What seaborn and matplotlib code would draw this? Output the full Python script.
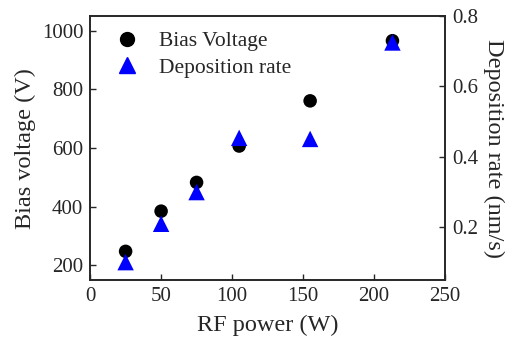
import numpy as np
import pandas as pd
import matplotlib
matplotlib.use('Agg')
import matplotlib.pyplot as plt
import seaborn as sns
from matplotlib.lines import Line2D

rf_power=[25,50,75,105,155,213]
bias_voltage=[248,385,483,607,761,966]
dep_rate=[0.101,0.21,0.30,0.454,0.451,0.725]

df=pd.DataFrame({'RF power':rf_power,'Bias':bias_voltage,'Rate':dep_rate})

sns.set_style('ticks')
plt.rcParams['font.family']=['Liberation Serif','DejaVu Serif']
plt.rcParams['xtick.direction']='in'
plt.rcParams['ytick.direction']='in'

fig=plt.figure(figsize=(5.18,3.42),dpi=100)
ax=fig.add_axes([0.174,0.181,0.685,0.772])
ax2=ax.twinx()

sns.scatterplot(data=df,x='RF power',y='Bias',ax=ax,color='black',marker='o',s=95,edgecolor='none',zorder=3)
sns.scatterplot(data=df,x='RF power',y='Rate',ax=ax2,color='#0000ff',marker='^',s=140,edgecolor='none',zorder=4)

ax.set_xlim(0,250)
ax.set_ylim(150,1050)
ax2.set_ylim(0.05,0.8)
ax.set_xticks([0,50,100,150,200,250])
ax.set_yticks([200,400,600,800,1000])
ax2.set_yticks([0.2,0.4,0.6,0.8])

ax.set_xlabel('RF power (W)',fontsize=17.5,labelpad=6)
ax.set_ylabel('Bias voltage (V)',fontsize=17.5,labelpad=4)
ax2.set_ylabel('Deposition rate (nm/s)',fontsize=17.5,rotation=270,labelpad=19)

for a in (ax,ax2):
    a.tick_params(labelsize=15,length=4,width=1,pad=5)
    for sp in a.spines.values():
        sp.set_linewidth(1.2)
        sp.set_visible(True)

handles=[Line2D([],[],marker='o',color='black',linestyle='none',markersize=10),
         Line2D([],[],marker='^',color='#0000ff',linestyle='none',markersize=12)]
ax.legend(handles,['Bias Voltage','Deposition rate'],loc='upper left',frameon=False,fontsize=15.5,
          handletextpad=0.5,borderaxespad=0.3,labelspacing=0.3)

fig.savefig('out.png',dpi=100)
